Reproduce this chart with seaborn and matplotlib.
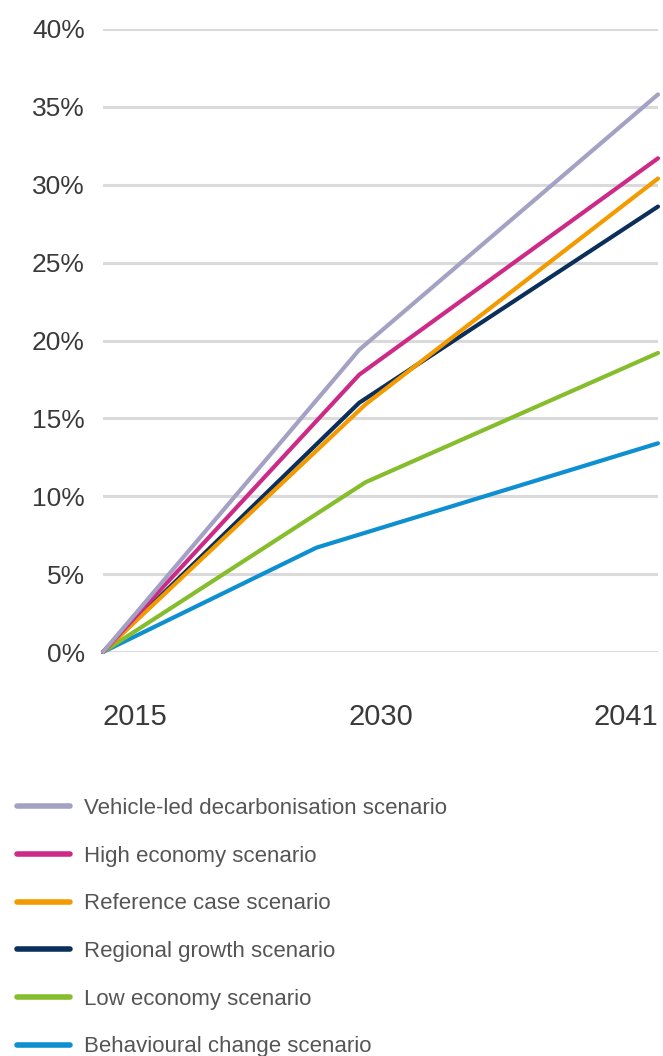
import numpy as np
import pandas as pd
import matplotlib
matplotlib.use('Agg')
import matplotlib.pyplot as plt
from matplotlib.lines import Line2D
import seaborn as sns

# scenario names, in legend order
scenarios = ['Vehicle-led decarbonisation scenario',
             'High economy scenario',
             'Reference case scenario',
             'Regional growth scenario',
             'Low economy scenario',
             'Behavioural change scenario']

colours = ['#a3a1c4', '#cd2a87', '#f39a00', '#0b2f5b', '#86bd2c', '#0e8fd0']

# years of the break points
years_vehicle = [2015, 2027, 2041]
years_high = [2015, 2027, 2041]
years_reference = [2015, 2027.3, 2041]
years_regional = [2015, 2027, 2041]
years_low = [2015, 2027.3, 2041]
years_behaviour = [2015, 2025, 2041]

# share (%) for each scenario
share_vehicle = [0, 19.4, 35.8]
share_high = [0, 17.8, 31.7]
share_reference = [0, 15.9, 30.4]
share_regional = [0, 16.0, 28.6]
share_low = [0, 10.9, 19.2]
share_behaviour = [0, 6.7, 13.4]

x_tick_pos = [2015, 2028, 2041]
x_tick_labels = ['2015', '2030', '2041']
y_ticks = [0, 5, 10, 15, 20, 25, 30, 35, 40]

years = [years_vehicle, years_high, years_reference, years_regional, years_low, years_behaviour]
shares = [share_vehicle, share_high, share_reference, share_regional, share_low, share_behaviour]

rows = []
for name, xs, ys in zip(scenarios, years, shares):
    for x, y in zip(xs, ys):
        rows.append({'scenario': name, 'year': x, 'share': y})
df = pd.DataFrame(rows)

sns.set_style('white')
plt.rcParams['font.family'] = ['Liberation Sans', 'DejaVu Sans']

fig = plt.figure(figsize=(6.63, 10.56), dpi=100)
ax = fig.add_axes([103 / 663, 1 - 652 / 1056, 555 / 663, 623 / 1056])

palette = dict(zip(scenarios, colours))
# draw bottom scenario first so the vehicle-led line sits on top
sns.lineplot(data=df, x='year', y='share', hue='scenario',
             hue_order=scenarios[::-1], palette=palette,
             linewidth=3, legend=False, sort=False, ax=ax)
for ln in ax.get_lines():
    ln.set_clip_on(False)

ax.set_xlim(2015, 2041)
ax.set_ylim(0, 40)
ax.set_yticks(y_ticks)
ax.set_yticklabels([f'{v}%' for v in y_ticks])
ax.set_xticks(x_tick_pos)
ax.set_xticklabels(x_tick_labels)
for lbl, ha in zip(ax.get_xticklabels(), ['left', 'center', 'right']):
    lbl.set_horizontalalignment(ha)

ax.tick_params(axis='y', length=0, pad=13, labelsize=19, labelcolor='#3a3a3a')
ax.tick_params(axis='x', length=0, pad=37, labelsize=21, labelcolor='#3a3a3a')
ax.grid(axis='y', color='#dadada', linewidth=2.2)
ax.grid(axis='x', visible=False)
ax.set_axisbelow(True)
for s in ax.spines.values():
    s.set_visible(False)
ax.set_xlabel('')
ax.set_ylabel('')

handles = [Line2D([0], [0], color=c, linewidth=4, solid_capstyle='round') for c in colours]
leg = fig.legend(handles, scenarios, loc='upper left',
                 bbox_to_anchor=(17 / 663, 1 - 798 / 1056),
                 frameon=False, fontsize=16, handlelength=2.4,
                 handletextpad=0.6, labelspacing=1.2, borderpad=0,
                 borderaxespad=0)
for t in leg.get_texts():
    t.set_color('#555555')

fig.savefig('out.png', dpi=100)
